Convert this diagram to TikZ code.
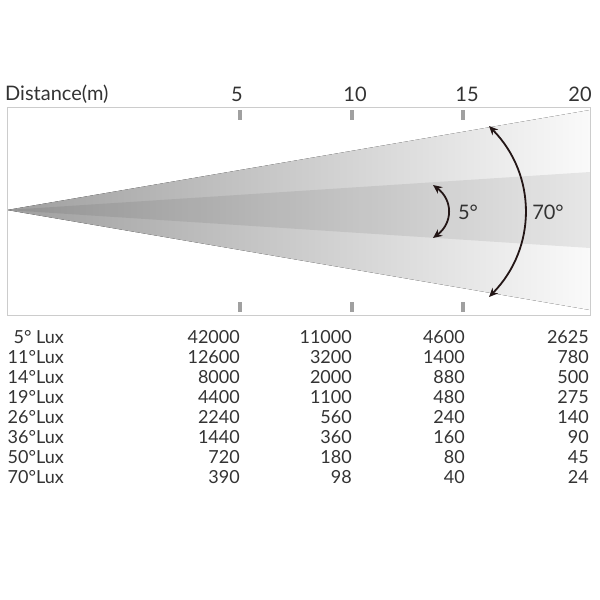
\documentclass[tikz,border=0pt]{standalone}
\usepackage{fontspec}
\setmainfont{Lato}
\usetikzlibrary{arrows.meta}
\definecolor{txt}{HTML}{333333}
\definecolor{arrowc}{HTML}{231616}
\definecolor{framec}{HTML}{CCCCCC}
\definecolor{tickc}{HTML}{A0A0A0}
\tikzset{
  toplabel/.style={font=\fontsize{20}{24}\selectfont, text=txt, inner sep=0pt},
  cell/.style={font=\fontsize{18}{22}\selectfont, text=txt, inner sep=0pt, anchor=east},
  tickmark/.style={fill=tickc, draw=none},
  beamarrow/.style={draw=arrowc, line width=1.8pt, {Stealth[length=9pt,width=8pt]}-{Stealth[length=9pt,width=8pt]}},
}
\begin{document}
\begin{tikzpicture}[x=1pt,y=-1pt]
\useasboundingbox (0,0) rectangle (600,600);
% beams
\coordinate (apex) at (7,210);
\fill[left color=black!38, right color=black!2, draw=none] (apex) -- (590,110) -- (590,310) -- cycle;
\fill[black, fill opacity=0.075, draw=none] (apex) -- (590,172) -- (590,248) -- cycle;
% frame
\node[draw=framec, line width=0.8pt, minimum width=583pt, minimum height=208pt, anchor=north west, inner sep=0pt] (frame) at (7,107) {};
% ticks
\foreach \x in {240,352,463}{
  \fill[tickmark] (\x-2,110) rectangle (\x+2,120);
  \fill[tickmark] (\x-2,302) rectangle (\x+2,312);
}
% top labels
\node[toplabel, anchor=west] (dist) at (5,94) {Distance(m)};
\node[toplabel] (d5) at (237,94) {5};
\node[toplabel] (d10) at (355,94) {10};
\node[toplabel] (d15) at (467,94) {15};
\node[toplabel] (d20) at (580,94) {20};
% arrows
\coordinate (a5t) at (433,185);
\coordinate (a5b) at (433,238);
\draw[beamarrow] (a5t) .. controls (453,200) and (453,223) .. (a5b);
\coordinate (a70t) at (489,126);
\coordinate (a70b) at (489,297);
\draw[beamarrow] (a70t) .. controls (537,175) and (537,248) .. (a70b);
\node[toplabel] (l5) at (468,212) {5°};
\node[toplabel] (l70) at (548,212) {70°};
% table
\foreach \lab/\a/\b/\c/\d [count=\i from 0] in {
  5° Lux/42000/11000/4600/2625,
  11°Lux/12600/3200/1400/780,
  14°Lux/8000/2000/880/500,
  19°Lux/4400/1100/480/275,
  26°Lux/2240/560/240/140,
  36°Lux/1440/360/160/90,
  50°Lux/720/180/80/45,
  70°Lux/390/98/40/24}{
  \pgfmathsetmacro{\yy}{337+20*\i}
  \node[cell] (r\i c0) at (64,\yy) {\lab};
  \node[cell] (r\i c1) at (240,\yy) {\a};
  \node[cell] (r\i c2) at (352,\yy) {\b};
  \node[cell] (r\i c3) at (465,\yy) {\c};
  \node[cell] (r\i c4) at (589,\yy) {\d};
}
\end{tikzpicture}
\end{document}
